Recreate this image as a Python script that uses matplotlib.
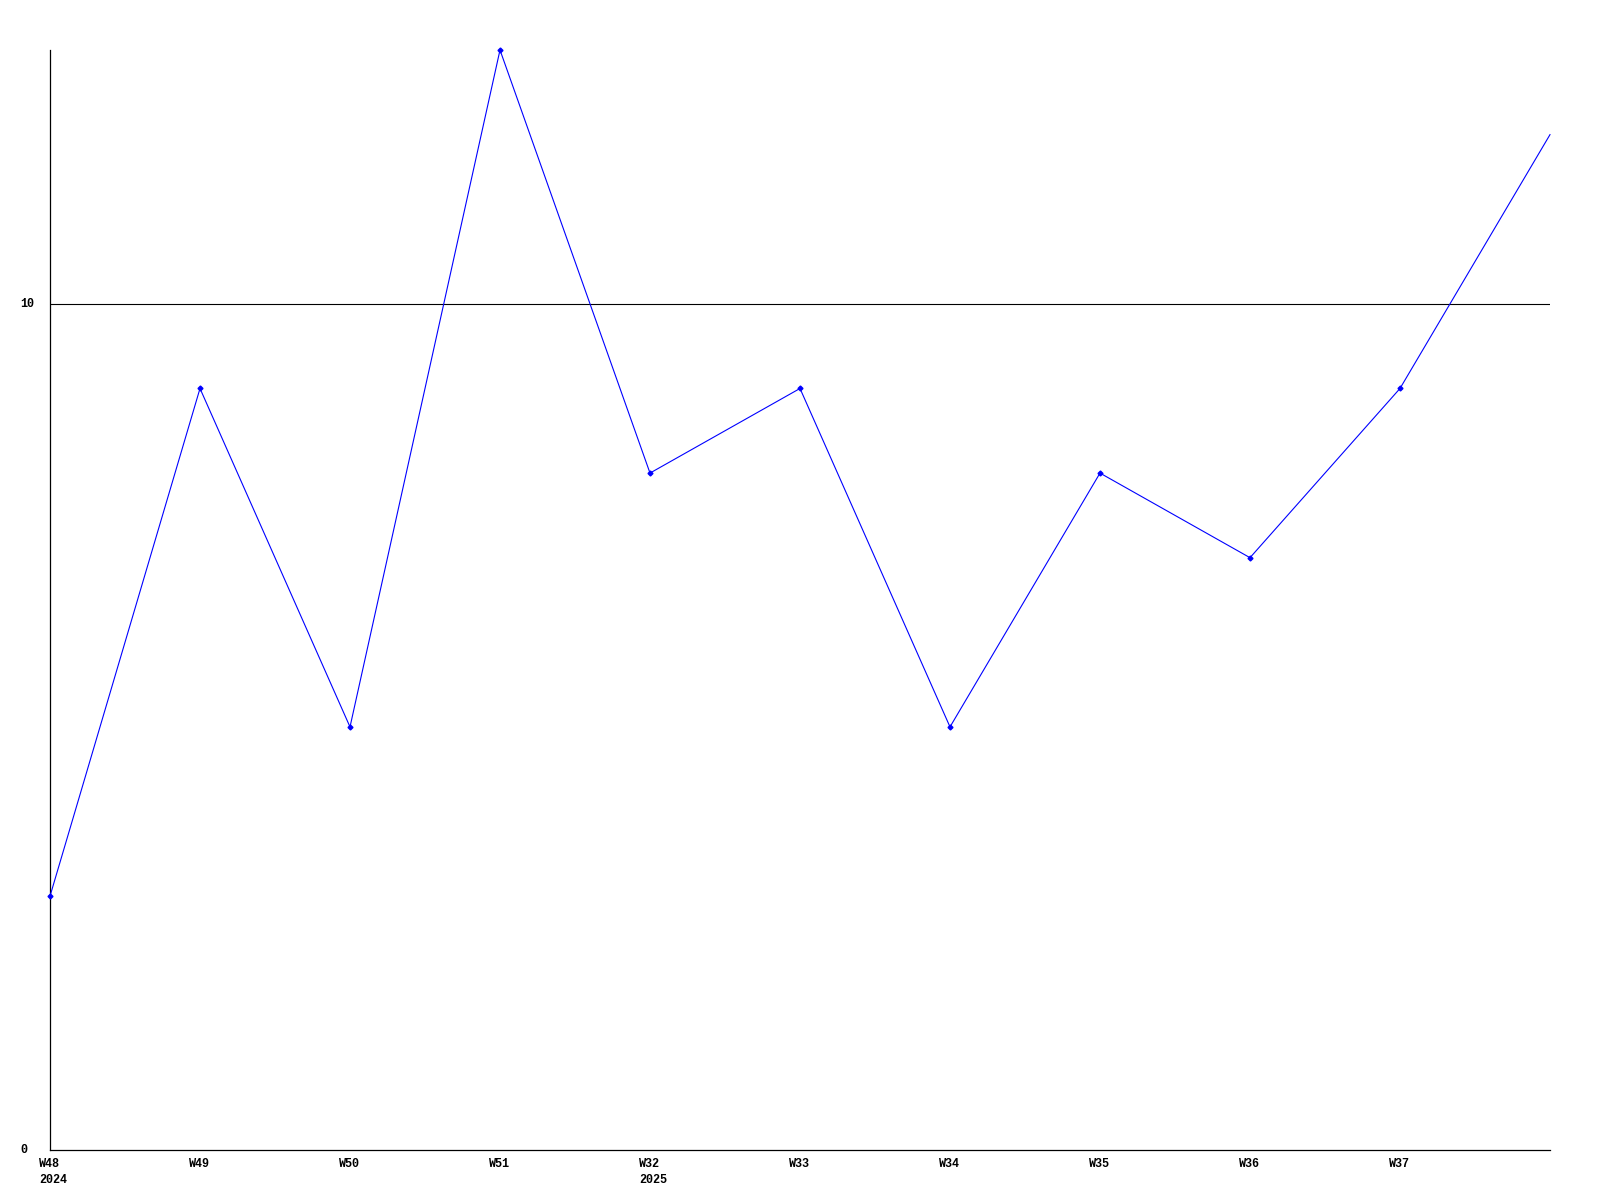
import matplotlib
matplotlib.use("Agg")
import matplotlib.pyplot as plt
import matplotlib.transforms as mtransforms

weeks = ["W48", "W49", "W50", "W51", "W32", "W33", "W34", "W35", "W36", "W37", ""]
years = ["2024", "", "", "", "2025", "", "", "", "", "", ""]
values = [3, 9, 5, 13, 8, 9, 5, 8, 7, 9, 12]
yticks = [0, 10]

fig = plt.figure(figsize=(16, 12), dpi=100)
ax = fig.add_axes([50/1600, 1 - 1150/1200, 1500/1600, 1100/1200])
x = list(range(len(values)))
ax.plot(x, values, color="#0000ff", lw=0.8, marker="D", ms=2.5,
        markevery=list(range(len(values) - 1)), clip_on=False, zorder=3)
ax.axhline(10, color="black", lw=0.8, zorder=2)
ax.set_xlim(0, len(values) - 1)
ax.set_ylim(0, 13)
for s in ["top", "right"]:
    ax.spines[s].set_visible(False)
for s in ["left", "bottom"]:
    ax.spines[s].set_linewidth(0.9)
ax.set_xticks([])
ax.set_yticks([])

font = dict(family="Liberation Mono", weight="bold", fontsize=8.5)
# y labels, left-aligned at x=20 px
ytrans = mtransforms.blended_transform_factory(fig.transFigure, ax.transData)
for v in yticks:
    ax.text(20/1600, v, str(v), transform=ytrans, ha="left", va="center", **font)
# x labels
off = mtransforms.ScaledTranslation(-11/100, -8/100, fig.dpi_scale_trans)
xtrans = mtransforms.blended_transform_factory(ax.transData, ax.transAxes) + off
for i, (w, yr) in enumerate(zip(weeks, years)):
    if not w:
        continue
    lbl = w + ("\n" + yr if yr else "")
    ax.text(i, 0, lbl, transform=xtrans, ha="left", va="top",
            linespacing=1.4, **font)

fig.savefig("out.png", dpi=100, facecolor="white")
